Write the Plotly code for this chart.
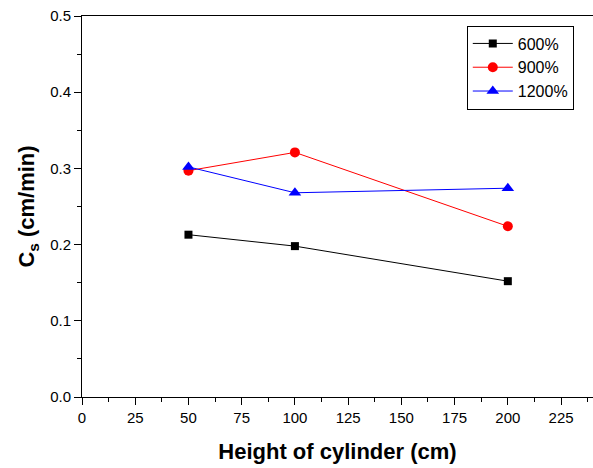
import plotly.graph_objects as go

# Cylinder heights (cm)
heights = [50, 100, 200]

# Cs (cm/min) for each series
cs_600 = [0.213, 0.198, 0.152]
cs_900 = [0.297, 0.321, 0.224]
cs_1200 = [0.302, 0.268, 0.274]

series = [
    ("600%", cs_600, "#000000", "square", 8),
    ("900%", cs_900, "#FF0000", "circle", 10),
    ("1200%", cs_1200, "#0000FF", "triangle-up", 11),
]

x_ticks = [0, 25, 50, 75, 100, 125, 150, 175, 200, 225]
y_ticks = [0.0, 0.1, 0.2, 0.3, 0.4, 0.5]

fig = go.Figure()
for name, vals, color, symbol, size in series:
    fig.add_trace(go.Scatter(
        x=heights, y=vals, name=name, mode="lines+markers",
        line=dict(color=color, width=1),
        marker=dict(symbol=symbol, size=size, color=color, line=dict(width=0)),
    ))

axis_font = dict(family="Arial, Liberation Sans, sans-serif", size=15, color="black")

fig.update_layout(
    width=593, height=468,
    margin=dict(l=82, r=0, t=16, b=71),
    paper_bgcolor="white", plot_bgcolor="white",
    font=dict(family="Arial, Liberation Sans, sans-serif", color="black"),
    legend=dict(
        x=0.753, y=0.975, xanchor="left", yanchor="top",
        bgcolor="white", bordercolor="black", borderwidth=1,
        font=dict(size=16, family="Arial, Liberation Sans, sans-serif"),
        tracegroupgap=0, itemwidth=40,
    ),
    xaxis=dict(
        range=[0, 240], tickvals=x_ticks, ticktext=[str(v) for v in x_ticks],
        showline=True, linecolor="black", linewidth=1, mirror=True,
        ticks="outside", ticklen=7, tickcolor="black", tickwidth=1,
        minor=dict(ticks="outside", ticklen=4, dtick=12.5, tick0=0, tickcolor="black"),
        showgrid=False, zeroline=False, tickfont=axis_font,
        title=dict(text="<b>Height of cylinder (cm)</b>", font=dict(size=22), standoff=18),
    ),
    yaxis=dict(
        range=[0, 0.5], tickvals=y_ticks, ticktext=[f"{v:.1f}" for v in y_ticks],
        showline=True, linecolor="black", linewidth=1, mirror=False,
        ticks="outside", ticklen=7, tickcolor="black", tickwidth=1,
        minor=dict(ticks="outside", ticklen=4, dtick=0.05, tick0=0, tickcolor="black"),
        showgrid=False, zeroline=False, tickfont=axis_font,
        title=dict(text="<b>C<sub>s</sub> (cm/min)</b>", font=dict(size=22), standoff=9),
    ),
)

fig.write_html("out.html")
